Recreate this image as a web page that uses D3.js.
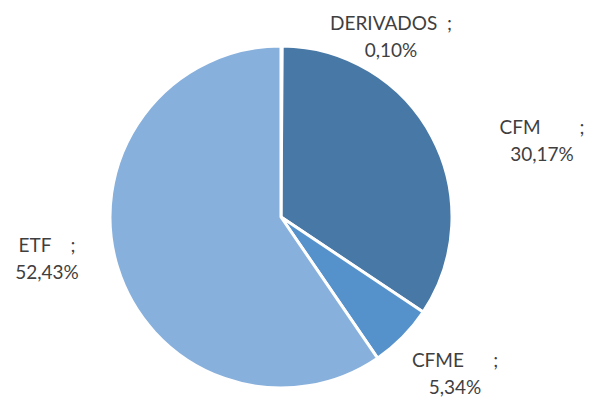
<!DOCTYPE html>
<html>
<head>
<meta charset="utf-8">
<script src="https://cdn.jsdelivr.net/npm/d3@7"></script>
<style>
  body { margin: 0; background: #fff; }
  svg text { font-family: Lato, "Open Sans", sans-serif; fill: #3f3f3f; }
</style>
</head>
<body>
<div id="chart"></div>
<script>
// data
const categories = ["DERIVADOS", "CFM", "CFME", "ETF"]
const values = [0.10, 30.17, 5.34, 52.43]
const labels = ["0,10%", "30,17%", "5,34%", "52,43%"]
const colors = ["#3a6591", "#4778a6", "#5592cb", "#88b0dc"]

// label layout (first line text, line anchor position)
const labelLine1 = ["DERIVADOS  ;", "CFM        ;", "CFME      ;", "ETF    ;"]
const labelPos = [[391, 30], [542, 134], [455, 367], [47, 252]]

const width = 590
const height = 400
const cx = 281, cy = 217
const radius = 171

const svg = d3.select("#chart")
    .append("svg")
    .attr("width", width)
    .attr("height", height)

const g = svg.append("g")
    .attr("transform", `translate(${cx}, ${cy})`)

const pie = d3.pie()
    .sort(null)
    .value(d => d)

const arc = d3.arc()
    .innerRadius(0)
    .outerRadius(radius)

g.selectAll("path")
    .data(pie(values))
    .join("path")
    .attr("d", arc)
    .attr("fill", (d, i) => colors[i])
    .attr("stroke", "#fff")
    .attr("stroke-width", 3)
    .attr("stroke-linejoin", "round")

const lab = svg.append("g")
    .selectAll("text")
    .data(categories)
    .join("text")
    .attr("text-anchor", "middle")
    .style("font-size", "19px")
    .style("white-space", "pre")
    .attr("transform", (d, i) => `translate(${labelPos[i][0]}, ${labelPos[i][1]})`)

lab.append("tspan")
    .attr("x", 0)
    .attr("y", 0)
    .text((d, i) => labelLine1[i])

lab.append("tspan")
    .attr("x", 0)
    .attr("y", 27)
    .text((d, i) => labels[i])
</script>
</body>
</html>
